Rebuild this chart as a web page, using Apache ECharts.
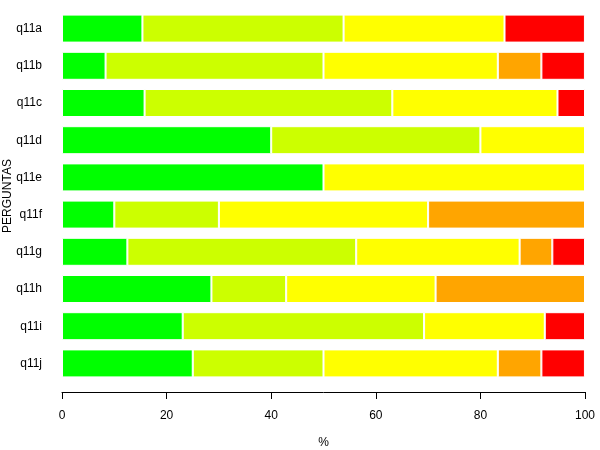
<!DOCTYPE html>
<html>
<head>
<meta charset="utf-8">
<script src="https://cdn.jsdelivr.net/npm/echarts@6/dist/echarts.min.js"></script>
<style>html,body{margin:0;padding:0;background:#fff;}#c{width:600px;height:450px;}</style>
</head>
<body>
<div id="c"></div>
<script>
const categories = ['q11a','q11b','q11c','q11d','q11e','q11f','q11g','q11h','q11i','q11j'];
const level1 = [15.38, 8.33, 15.79, 40, 50, 10, 12.5, 28.57, 23.08, 25];
const level2 = [38.46, 41.67, 47.37, 40, 0, 20, 43.75, 14.29, 46.15, 25];
const level3 = [30.77, 33.33, 31.58, 20, 50, 40, 31.25, 28.57, 23.08, 33.33];
const level4 = [0, 8.33, 0, 0, 0, 30, 6.25, 28.57, 0, 8.33];
const level5 = [15.38, 8.33, 5.26, 0, 0, 0, 6.25, 0, 7.69, 8.33];
const colors = ['#00FF00', '#CCFF00', '#FFFF00', '#FFA500', '#FF0000'];
const xTicks = [0, 20, 40, 60, 80, 100];

const font = 'Liberation Sans, Arial, sans-serif';
const levels = [level1, level2, level3, level4, level5];
const chart = echarts.init(document.getElementById('c'), null, {renderer: 'canvas'});
chart.setOption({
  animation: false,
  backgroundColor: '#ffffff',
  grid: {left: 62, right: 15, top: 10, height: 372, containLabel: false, outerBoundsMode: 'none'},
  xAxis: {
    type: 'value', min: xTicks[0], max: xTicks[xTicks.length - 1], interval: 20,
    offset: 10,
    name: '%', nameLocation: 'middle', nameGap: 45, nameMoveOverlap: false,
    nameTextStyle: {color: '#000', fontSize: 12, fontFamily: font},
    axisLine: {show: true, lineStyle: {color: '#000', width: 1}},
    axisTick: {show: true, length: 7, lineStyle: {color: '#000'}},
    axisLabel: {color: '#000', fontSize: 12, fontFamily: font, margin: 18},
    splitLine: {show: false}
  },
  yAxis: {
    type: 'category', data: categories, inverse: true,
    name: 'PERGUNTAS', nameLocation: 'middle', nameGap: 48, nameRotate: 90, nameMoveOverlap: false,
    nameTextStyle: {color: '#000', fontSize: 12, fontFamily: font},
    axisLine: {show: false}, axisTick: {show: false},
    axisLabel: {color: '#000', fontSize: 12, fontFamily: font, margin: 20}
  },
  series: levels.map((d, i) => ({
    type: 'bar', stack: 'total', data: d, barWidth: 28,
    itemStyle: {color: colors[i], borderColor: '#ffffff', borderWidth: 1}
  }))
});
</script>
</body>
</html>
